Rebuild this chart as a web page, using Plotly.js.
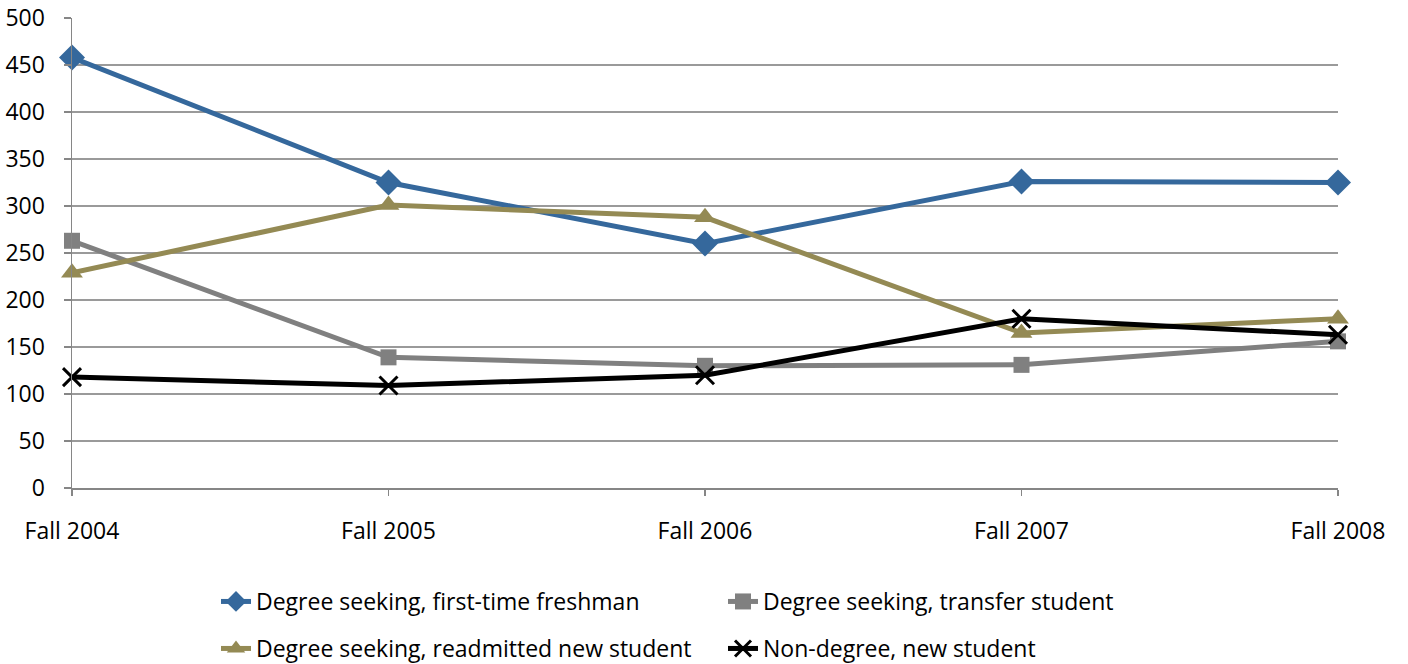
<!DOCTYPE html>
<html>
<head>
<meta charset="utf-8">
<script src="https://cdn.plot.ly/plotly-3.0.1.min.js"></script>
<style>html,body{margin:0;padding:0;background:#fff;}#chart{width:1408px;height:664px;}</style>
</head>
<body>
<div id="chart"></div>
<script>
const categories = ["Fall 2004", "Fall 2005", "Fall 2006", "Fall 2007", "Fall 2008"];
const freshman = [458, 325, 260, 326, 325];
const transfer = [263, 139, 130, 131, 156];
const readmitted = [229, 301, 288, 165, 180];
const nonDegree = [118, 109, 120, 180, 163];
const seriesNames = [
  "Degree seeking, first-time freshman",
  "Degree seeking, transfer student",
  "Degree seeking, readmitted new student",
  "Non-degree, new student"
];
const yTicks = [0, 50, 100, 150, 200, 250, 300, 350, 400, 450, 500];

const FONT = "'Open Sans', 'Liberation Sans', sans-serif";
const FS = 23;

function trace(name, y, color, symbol, size, legend, extraMarker) {
  return {
    type: "scatter", mode: "lines+markers", name: name,
    x: categories, y: y, cliponaxis: false, legend: legend,
    line: {color: color, width: 5},
    marker: Object.assign({symbol: symbol, size: size, color: color, line: {width: 0}}, extraMarker || {})
  };
}

const data = [
  trace(seriesNames[0], freshman, "#35689C", "diamond", 20, "legend"),
  trace(seriesNames[1], transfer, "#808080", "square", 16, "legend"),
  trace(seriesNames[2], readmitted, "#948A54", "triangle-up", 19, "legend2"),
  trace(seriesNames[3], nonDegree, "#000000", "x-thin-open", 18, "legend2", {line: {width: 3, color: "#000000"}})
];

const legendBase = {
  orientation: "h",
  xref: "container", yref: "container",
  x: (216 / 1408), xanchor: "left",
  yanchor: "top",
  entrywidth: 462, entrywidthmode: "pixels",
  itemwidth: 30,
  font: {family: FONT, size: FS, color: "#000000"},
  bgcolor: "rgba(0,0,0,0)"
};

const layout = {
  width: 1408, height: 664,
  margin: {l: 72, r: 70, t: 18, b: 176},
  paper_bgcolor: "#ffffff", plot_bgcolor: "#ffffff",
  font: {family: FONT, size: FS, color: "#000000"},
  showlegend: true,
  xaxis: {
    type: "category", range: [0, 4], automargin: false,
    showgrid: false, zeroline: false,
    showline: true, linecolor: "#868686", linewidth: 1.5,
    ticks: "outside", ticklen: 6, tickcolor: "#868686", tickwidth: 1.5,
    ticklabelstandoff: 16,
    tickfont: {family: FONT, size: FS, color: "#000000"}
  },
  yaxis: {
    range: [0, 500], tickvals: yTicks, automargin: false,
    showgrid: true, gridcolor: "#9a9a9a", gridwidth: 1.5,
    zeroline: false,
    showline: true, linecolor: "#868686", linewidth: 1.5,
    ticks: "outside", ticklen: 7, tickcolor: "#868686", tickwidth: 1.5,
    ticklabelstandoff: 14,
    tickfont: {family: FONT, size: FS, color: "#000000"}
  },
  legend: Object.assign({}, legendBase, {y: (664 - 580) / 664}),
  legend2: Object.assign({}, legendBase, {y: (664 - 627) / 664})
};

Plotly.newPlot("chart", data, layout, {displayModeBar: false, staticPlot: true});
</script>
</body>
</html>
